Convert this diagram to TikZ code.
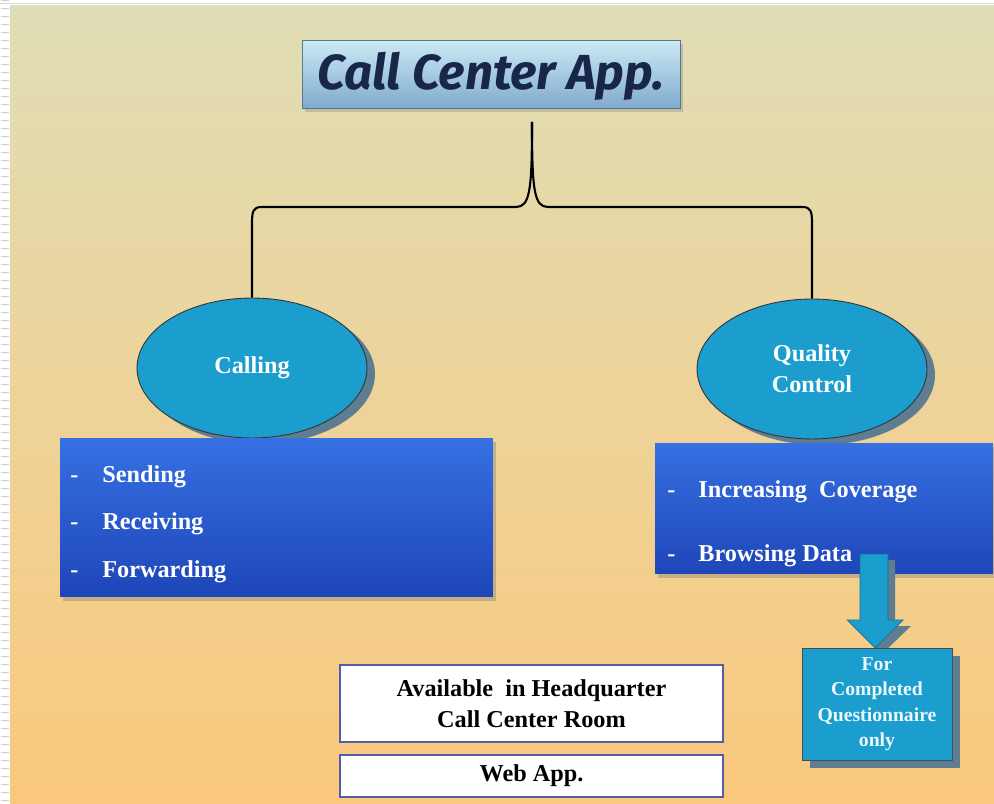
\documentclass[tikz,border=0pt]{standalone}
\usepackage{graphicx}
\usepackage{fontspec}
\setmainfont{Liberation Serif}
\newfontfamily\titlefont{Fira Sans}
\usetikzlibrary{shapes.geometric,shadows}
\definecolor{bgtop}{RGB}{224,222,182}
\definecolor{bgmid}{RGB}{238,214,160}
\definecolor{bgbot}{RGB}{250,200,124}
\definecolor{tealfill}{RGB}{27,158,206}
\definecolor{tealshadow}{RGB}{95,125,145}
\definecolor{boxtop}{RGB}{54,112,226}
\definecolor{boxbot}{RGB}{30,70,184}
\definecolor{titletop}{RGB}{204,234,246}
\definecolor{titlebot}{RGB}{128,170,205}
\definecolor{titletext}{RGB}{24,38,74}
\definecolor{wborder}{RGB}{88,92,168}
\tikzset{
  lbl/.style={font=\fontsize{13.8}{17.6}\selectfont\bfseries},
  itemtxt/.style={lbl, text=white, inner sep=0pt, anchor=base west},
  titlebox/.style={minimum width=7.56cm, minimum height=1.36cm, top color=titletop, bottom color=titlebot,
    draw=titlebot!70!black, line width=0.4pt, drop shadow={shadow xshift=0.06cm, shadow yshift=-0.08cm, opacity=.35}},
  ell/.style={ellipse, minimum width=4.6cm, minimum height=2.8cm, fill=tealfill, draw=black!80, line width=0.5pt,
    drop shadow={shadow xshift=0.16cm, shadow yshift=-0.12cm, fill=tealshadow, opacity=1},
    lbl, text=white, align=center},
  bluebox/.style={top color=boxtop, bottom color=boxbot, draw=none,
    drop shadow={shadow xshift=0.06cm, shadow yshift=-0.08cm, opacity=.4}},
  smallbox/.style={fill=tealfill, draw=black!70, line width=0.5pt, minimum width=3cm, minimum height=2.24cm,
    drop shadow={shadow xshift=0.16cm, shadow yshift=-0.16cm, fill=tealshadow, opacity=1},
    font=\fontsize{11.2}{14.5}\selectfont\bfseries, text=white!92!cyan, align=center},
  whitebox/.style={fill=white, draw=wborder, line width=1pt, minimum width=7.66cm, lbl, align=center},
  bracket/.style={draw=black, line width=1.2pt}
}
\begin{document}
\begin{tikzpicture}[x=0.02cm,y=-0.02cm]
\useasboundingbox (0,0) rectangle (994,804);
\fill[white] (0,0) rectangle (994,804);
\draw[black!18, line width=0.16cm, dash pattern=on 0.03cm off 0.13cm] (5,0) -- (5,804);
\draw[black!15, line width=0.5pt] (0,3) -- (994,3);
\shade[top color=bgtop, middle color=bgmid, bottom color=bgbot] (10,6) rectangle (994,804);

% title
\node[titlebox] (title) at (491,74) {};
\node[text=titletext, inner sep=0pt] (titletxt) at (491,76) {\resizebox{6.94cm}{!}{\titlefont\bfseries\itshape Call Center App.}};

% ellipses
\node[ell] (calling) at (252,368) {Calling};
\node[ell] (qc) at (812,369) {Quality\\Control};

% bracket
\coordinate (top) at (532,122);
\draw[bracket] (top) .. controls (532,190) and (530,207) .. (516,207) -- (262,207)
  .. controls (253,207) and (252,211) .. (252,224) -- (calling.north);
\draw[bracket] (top) .. controls (532,190) and (534,207) .. (548,207) -- (802,207)
  .. controls (811,207) and (812,211) .. (812,224) -- (qc.north);

% left list box
\node[bluebox, minimum width=8.66cm, minimum height=3.18cm] (calllist) at (276.5,517.5) {};
\node[itemtxt] (d1) at (70,482) {-};
\node[itemtxt] (i1) at (102,482) {Sending};
\node[itemtxt] (d2) at (70,529.5) {-};
\node[itemtxt] (i2) at (102,529.5) {Receiving};
\node[itemtxt] (d3) at (70,577) {-};
\node[itemtxt] (i3) at (102,577) {Forwarding};

% right list box
\node[bluebox, minimum width=6.76cm, minimum height=2.62cm] (qclist) at (824,508.5) {};
\node[itemtxt] (d4) at (667,497) {-};
\node[itemtxt] (i4) at (698,497) {Increasing\ \ Coverage};
\node[itemtxt] (d5) at (667,561) {-};
\node[itemtxt] (i5) at (698,561) {Browsing\ Data};

% arrow
\fill[tealshadow] (867,560) -- (895,560) -- (895,626) -- (911,626) -- (882,654) -- (854,626) -- (867,626) -- cycle;
\filldraw[fill=tealfill, draw=tealfill!70!black, line width=0.4pt]
  (860,554) -- (888,554) -- (888,620) -- (903,620) -- (875,648) -- (847,620) -- (860,620) -- cycle;

% small box
\node[smallbox] (note) at (877,704) {For\\Completed\\Questionnaire\\only};

% white boxes
\node[whitebox, minimum height=1.54cm] (avail) at (531.5,703.5) {Available\ \ in Headquarter\\Call Center Room};
\node[whitebox, minimum height=0.84cm] (web) at (531.5,776) {Web App.};
\end{tikzpicture}
\end{document}
